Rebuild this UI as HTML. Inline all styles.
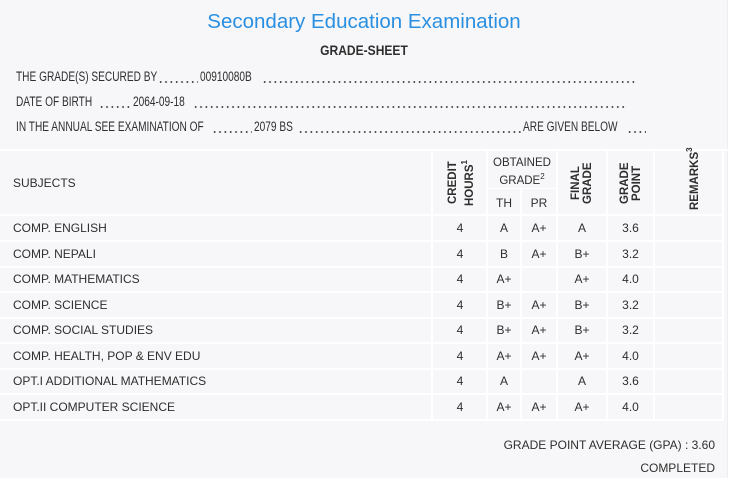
<!DOCTYPE html>
<html><head><meta charset="utf-8"><style>
*{margin:0;padding:0;box-sizing:border-box}
body{width:737px;height:478px;background:#fff;font-family:"Liberation Sans",sans-serif;color:#2e2e2e;position:relative;overflow:hidden}
#pg{position:absolute;left:0;top:0;width:728px;height:478px;background:#f7f7f9;border-right:1px solid #eee}
.a{position:absolute;white-space:nowrap}
.t{font-size:20.5px;color:#2a8fe0;left:0;width:728px;text-align:center;top:10px}
.gs{font-weight:bold;font-size:14px;left:0;width:728px;text-align:center;top:42px;transform:scaleX(0.86)}
.w{position:absolute;font-size:13.5px;white-space:nowrap;transform:scaleX(0.75);transform-origin:left center}
.d{position:absolute;height:2px;background-image:radial-gradient(circle,#444 0.8px,transparent 1.1px);background-size:5.35px 2px;background-repeat:repeat-x}
.h{position:absolute;background:#fff}
.c{position:absolute;font-size:12px;text-align:center}
.v{position:absolute;font-size:11.5px;font-weight:bold;writing-mode:vertical-rl;transform:rotate(180deg);text-align:center;line-height:12px}
sup{font-size:8px}
</style></head><body><div id="pg">
<div class="a t">Secondary Education Examination</div>
<div class="a gs">GRADE-SHEET</div>

<div class="w" style="left:16px;top:69px">THE GRADE(S) SECURED BY</div>
<div class="d" style="left:158px;top:81px;width:40px"></div>
<div class="w" style="left:200px;top:69px">00910080B</div>
<div class="d" style="left:262px;top:81px;width:373px"></div>

<div class="w" style="left:16px;top:94px">DATE OF BIRTH</div>
<div class="d" style="left:99px;top:106px;width:32px"></div>
<div class="w" style="left:133px;top:94px">2064-09-18</div>
<div class="d" style="left:193px;top:106px;width:432px"></div>

<div class="w" style="left:16px;top:119px">IN THE ANNUAL SEE EXAMINATION OF</div>
<div class="d" style="left:212px;top:131px;width:40px"></div>
<div class="w" style="left:254px;top:119px">2079 BS</div>
<div class="d" style="left:298px;top:131px;width:223px"></div>
<div class="w" style="left:523px;top:119px">ARE GIVEN BELOW</div>
<div class="d" style="left:627px;top:131px;width:19px"></div>

<div class="h" style="left:0;top:149px;width:728px;height:2px"></div>
<div class="h" style="left:487px;top:188px;width:70px;height:1px"></div>
<div class="h" style="left:0;top:214px;width:723px;height:2px"></div>
<div class="h" style="left:0;top:240px;width:723px;height:2px"></div>
<div class="h" style="left:0;top:266px;width:723px;height:2px"></div>
<div class="h" style="left:0;top:291px;width:723px;height:2px"></div>
<div class="h" style="left:0;top:317px;width:723px;height:2px"></div>
<div class="h" style="left:0;top:342px;width:723px;height:2px"></div>
<div class="h" style="left:0;top:368px;width:723px;height:2px"></div>
<div class="h" style="left:0;top:393px;width:723px;height:2px"></div>
<div class="h" style="left:0;top:419px;width:723px;height:2px"></div>
<div class="h" style="left:431px;top:150px;width:2px;height:270px"></div>
<div class="h" style="left:486px;top:150px;width:2px;height:270px"></div>
<div class="h" style="left:520px;top:189px;width:2px;height:231px"></div>
<div class="h" style="left:556px;top:150px;width:2px;height:270px"></div>
<div class="h" style="left:606px;top:150px;width:2px;height:270px"></div>
<div class="h" style="left:653px;top:150px;width:2px;height:270px"></div>
<div class="h" style="left:722px;top:150px;width:2px;height:270px"></div>

<div class="a" style="left:13px;top:176px;font-size:12px">SUBJECTS</div>
<div class="v" style="left:447px;top:160px;height:46px">CREDIT<br>HOURS<sup>1</sup></div>
<div class="c" style="left:487px;top:156px;width:70px;line-height:14px;font-size:11.5px">OBTAINED<br>GRADE<sup>2</sup></div>
<div class="c" style="left:487px;top:196px;width:34px">TH</div>
<div class="c" style="left:521px;top:196px;width:36px">PR</div>
<div class="v" style="left:570px;top:160px;height:46px">FINAL<br>GRADE</div>
<div class="v" style="left:619px;top:160px;height:46px">GRADE<br>POINT</div>
<div class="v" style="left:684px;top:154px;height:56px">REMARKS<sup>3</sup></div>

<div id="rows"></div>
<div class="a" style="right:12px;top:438px;font-size:12px">GRADE POINT AVERAGE (GPA) : 3.60</div>
<div class="a" style="right:12px;top:461px;font-size:12px">COMPLETED</div>
</div>
<script>
var d=[["COMP. ENGLISH","A","A+","A","3.6"],["COMP. NEPALI","B","A+","B+","3.2"],["COMP. MATHEMATICS","A+","","A+","4.0"],["COMP. SCIENCE","B+","A+","B+","3.2"],["COMP. SOCIAL STUDIES","B+","A+","B+","3.2"],["COMP. HEALTH, POP &amp; ENV EDU","A+","A+","A+","4.0"],["OPT.I ADDITIONAL MATHEMATICS","A","","A","3.6"],["OPT.II COMPUTER SCIENCE","A+","A+","A+","4.0"]];
var tops=[221,247,272,298,323,349,374,400],h="";
d.forEach(function(r,i){var t=tops[i];
h+='<div class="a" style="left:13px;top:'+t+'px;font-size:12px">'+r[0]+'</div>';
h+='<div class="c" style="left:433px;top:'+t+'px;width:54px">4</div>';
h+='<div class="c" style="left:487px;top:'+t+'px;width:34px">'+r[1]+'</div>';
h+='<div class="c" style="left:521px;top:'+t+'px;width:36px">'+r[2]+'</div>';
h+='<div class="c" style="left:557px;top:'+t+'px;width:50px">'+r[3]+'</div>';
h+='<div class="c" style="left:607px;top:'+t+'px;width:47px">'+r[4]+'</div>';});
document.getElementById('rows').innerHTML=h;
</script>
</body></html>
